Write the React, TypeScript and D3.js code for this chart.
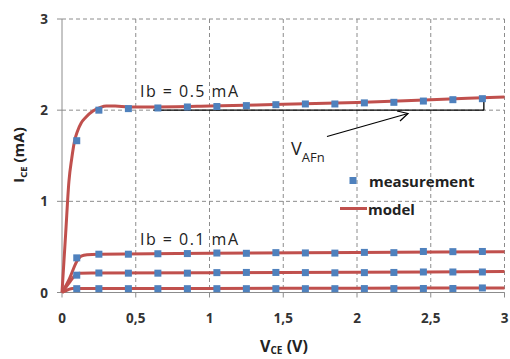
import React from "react";
import * as d3 from "d3";

const W = 510;
const H = 359;

const xTicks = [0, 0.5, 1, 1.5, 2, 2.5, 3];
const xTickLabels = ["0", "0,5", "1", "1,5", "2", "2,5", "3"];
const yTicks = [0, 1, 2, 3];

const measV = [0.1, 0.25, 0.45, 0.65, 0.85, 1.05, 1.25, 1.45, 1.65, 1.85, 2.05, 2.25, 2.45, 2.65, 2.85];
const measIb05 = [1.665, 2.0, 2.017, 2.024, 2.035, 2.04, 2.05, 2.06, 2.068, 2.068, 2.08, 2.086, 2.1, 2.115, 2.126];
const measIb01 = [0.38, 0.42, 0.42, 0.425, 0.427, 0.433, 0.43, 0.437, 0.434, 0.432, 0.44, 0.437, 0.45, 0.448, 0.45];
const measIbMid = [0.19, 0.214, 0.212, 0.212, 0.212, 0.218, 0.22, 0.22, 0.218, 0.216, 0.218, 0.22, 0.225, 0.225, 0.225];
const measIbLow = [0.042, 0.042, 0.042, 0.042, 0.042, 0.042, 0.042, 0.042, 0.042, 0.042, 0.043, 0.043, 0.044, 0.044, 0.05];

const modelTop: [number, number][] = [
  [0, 0], [0.025, 0.65], [0.047, 1.22], [0.066, 1.47], [0.085, 1.66], [0.105, 1.77], [0.13, 1.86],
  [0.16, 1.92], [0.21, 1.99], [0.26, 2.03], [0.3, 2.045], [0.36, 2.045], [0.45, 2.035], [0.6, 2.035],
  [1, 2.045], [1.5, 2.065], [2, 2.085], [2.5, 2.115], [3, 2.145],
];
const model01: [number, number][] = [
  [0, 0], [0.05, 0.15], [0.1, 0.34], [0.13, 0.4], [0.17, 0.415], [0.25, 0.42], [1, 0.43], [2, 0.44], [3, 0.448],
];
const modelMid: [number, number][] = [
  [0, 0], [0.05, 0.11], [0.09, 0.19], [0.12, 0.21], [0.2, 0.214], [1, 0.218], [2, 0.223], [3, 0.229],
];
const modelLow: [number, number][] = [
  [0, 0], [0.04, 0.03], [0.07, 0.044], [1, 0.045], [2, 0.047], [3, 0.05],
];

const RED = "#c0504d";
const BLUE = "#4f81bd";
const FONT = "'Open Sans', 'Liberation Sans', sans-serif";

export default function App() {
  const x = d3.scaleLinear().domain([0, 3]).range([62, 504.5]);
  const y = d3.scaleLinear().domain([0, 3]).range([292.5, 19]);
  const line = d3
    .line<[number, number]>()
    .x((d) => x(d[0]))
    .y((d) => y(d[1]))
    .curve(d3.curveMonotoneX);

  const models = [modelTop, model01, modelMid, modelLow];
  const meas = [measIb05, measIb01, measIbMid, measIbLow];
  const sq = 7;

  return (
    <svg width={W} height={H} style={{ position: "absolute", left: 0, top: 0, background: "#fff" }}>
      {/* grid */}
      {xTicks.slice(1).map((t) => (
        <line key={"gx" + t} x1={x(t)} x2={x(t)} y1={y(3)} y2={y(0)} stroke="#8c8c8c" strokeWidth={1} strokeDasharray="4,3" />
      ))}
      {yTicks.slice(1).map((t) => (
        <line key={"gy" + t} x1={x(0)} x2={x(3)} y1={y(t)} y2={y(t)} stroke="#8c8c8c" strokeWidth={1} strokeDasharray="4,3" />
      ))}
      {/* axes */}
      <line x1={x(0)} x2={x(0)} y1={y(3)} y2={y(0)} stroke="#8c8c8c" strokeWidth={1} />
      <line x1={x(0)} x2={x(3)} y1={y(0)} y2={y(0)} stroke="#8c8c8c" strokeWidth={1} />
      {yTicks.map((t) => (
        <line key={"ty" + t} x1={x(0) - 5} x2={x(0)} y1={y(t)} y2={y(t)} stroke="#8c8c8c" />
      ))}
      {xTicks.map((t) => (
        <line key={"tx" + t} x1={x(t)} x2={x(t)} y1={y(0)} y2={y(0) + 5} stroke="#8c8c8c" />
      ))}
      {/* tick labels */}
      {yTicks.map((t) => (
        <text key={"ly" + t} x={48} y={y(t) + 5} textAnchor="end" fontFamily={FONT} fontWeight="bold" fontSize={13.5} fill="#333">
          {t}
        </text>
      ))}
      {xTicks.map((t, i) => (
        <text key={"lx" + t} x={x(t)} y={323} textAnchor="middle" fontFamily={FONT} fontWeight="bold" fontSize={13.5} fill="#333">
          {xTickLabels[i]}
        </text>
      ))}
      {/* axis titles */}
      <text transform="translate(24,155) rotate(-90)" textAnchor="middle" fontFamily={FONT} fontWeight="bold" fontSize={15} fill="#222">
        I<tspan fontSize={9.5} dy={3}>CE</tspan>
        <tspan dy={-3}> (mA)</tspan>
      </text>
      <text x={284} y={352} textAnchor="middle" fontFamily={FONT} fontWeight="bold" fontSize={16} fill="#222">
        V<tspan fontSize={10} dy={2}>CE</tspan>
        <tspan dy={-2}> (V)</tspan>
      </text>
      {/* annotation */}
      <line x1={x(0.62)} x2={x(2.86)} y1={y(2)} y2={y(2)} stroke="#000" strokeWidth={1.3} />
      <line x1={x(2.86)} x2={x(2.86)} y1={y(2)} y2={y(2.13)} stroke="#000" strokeWidth={1.3} />
      {/* model curves */}
      {models.map((m, i) => (
        <path key={"m" + i} d={line(m) || ""} fill="none" stroke={RED} strokeWidth={3} strokeLinejoin="round" />
      ))}
      {/* measurement squares */}
      {meas.map((s, i) =>
        s.map((v, j) => (
          <rect key={"s" + i + "_" + j} x={x(measV[j]) - sq / 2} y={y(v) - sq / 2} width={sq} height={sq} fill={BLUE} />
        ))
      )}
      {/* arrow */}
      <line x1={327} y1={136.5} x2={408} y2={113.5} stroke="#000" strokeWidth={1.2} />
      <polyline points="397,111 408,113.5 400,121" fill="none" stroke="#000" strokeWidth={1.2} />
      <text x={291} y={155} fontFamily={FONT} fontSize={18} fill="#222">
        V<tspan fontSize={13} dy={6.5}>AFn</tspan>
      </text>
      {/* Ib labels */}
      <text x={140} y={97} fontFamily={FONT} fontSize={16} textLength={98} lengthAdjust="spacing" fill="#222">Ib = 0.5 mA</text>
      <text x={140} y={245} fontFamily={FONT} fontSize={16} textLength={98} lengthAdjust="spacing" fill="#222">Ib = 0.1 mA</text>
      {/* legend */}
      <rect x={349.5} y={177} width={7} height={7} fill={BLUE} />
      <text x={369} y={187} fontFamily={FONT} fontWeight="bold" fontSize={15} fill="#222">measurement</text>
      <line x1={340} x2={367} y1={208.5} y2={208.5} stroke={RED} strokeWidth={3} />
      <text x={368} y={215} fontFamily={FONT} fontWeight="bold" fontSize={15} fill="#222">model</text>
    </svg>
  );
}
